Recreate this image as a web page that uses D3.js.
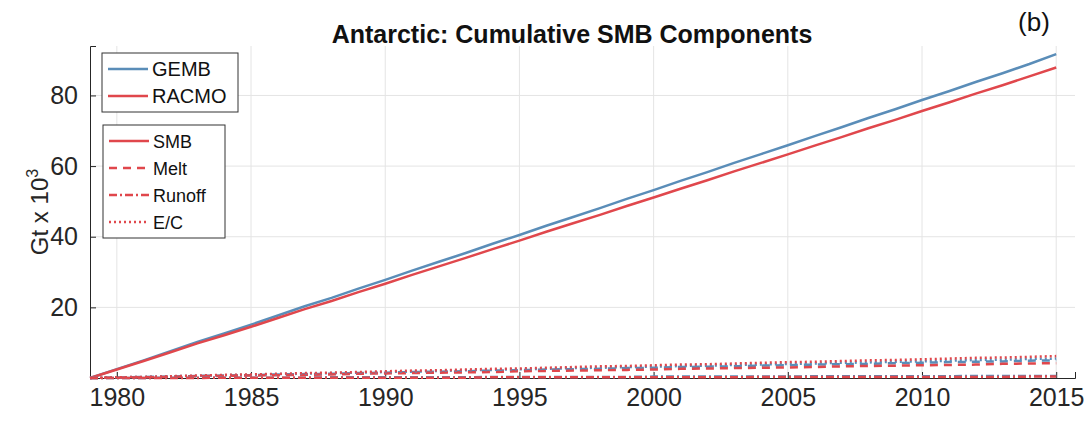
<!DOCTYPE html>
<html><head><meta charset="utf-8">
<script src="https://cdn.jsdelivr.net/npm/d3@7"></script>
<style>body{margin:0;background:#fff;font-family:"Liberation Sans",Arial,sans-serif}</style>
</head><body><div id="chart"></div>
<script>
// yearly values, Gt x 10^3
var years = d3.range(1979, 2016);
var gembSMB = [0,2.5,5.0,7.6,10.2,12.6,15.1,17.7,20.3,22.7,25.3,27.8,30.4,32.9,35.4,38.0,40.5,43.1,45.6,48.1,50.7,53.2,55.8,58.3,60.9,63.4,65.9,68.5,71.0,73.6,76.1,78.7,81.2,83.8,86.3,88.9,91.7];
var racmoSMB = [0,2.4,4.8,7.3,9.8,12.1,14.5,17.0,19.5,21.8,24.3,26.7,29.2,31.6,34.0,36.5,38.9,41.4,43.8,46.2,48.7,51.1,53.6,56.0,58.5,60.9,63.3,65.8,68.2,70.7,73.1,75.6,78.0,80.5,82.9,85.4,87.9];
var gembMelt = [0,0.1,0.3,0.4,0.6,0.7,0.8,1.0,1.1,1.2,1.4,1.5,1.7,1.8,1.9,2.1,2.2,2.4,2.5,2.6,2.8,2.9,3.1,3.2,3.3,3.5,3.6,3.8,3.9,4.0,4.2,4.3,4.5,4.6,4.7,4.9,5.0];
var racmoMelt = [0,0.1,0.2,0.3,0.5,0.6,0.7,0.8,0.9,1.0,1.2,1.3,1.4,1.5,1.6,1.7,1.9,2.0,2.1,2.2,2.3,2.4,2.6,2.7,2.8,2.9,3.0,3.1,3.3,3.4,3.5,3.6,3.7,3.8,4.0,4.1,4.2];
var gembRunoff = [0,0.0,0.0,0.1,0.1,0.1,0.1,0.1,0.1,0.2,0.2,0.2,0.2,0.2,0.2,0.3,0.3,0.3,0.3,0.3,0.3,0.4,0.4,0.4,0.4,0.4,0.4,0.5,0.5,0.5,0.5,0.5,0.5,0.6,0.6,0.6,0.6];
var racmoRunoff = [0,0.0,0.0,0.0,0.0,0.1,0.1,0.1,0.1,0.1,0.1,0.1,0.1,0.1,0.1,0.2,0.2,0.2,0.2,0.2,0.2,0.2,0.2,0.2,0.2,0.3,0.3,0.3,0.3,0.3,0.3,0.3,0.3,0.3,0.3,0.4,0.4];
var gembEC = [0,0.2,0.3,0.5,0.6,0.8,0.9,1.1,1.2,1.4,1.5,1.7,1.8,2.0,2.2,2.3,2.5,2.6,2.8,2.9,3.1,3.2,3.4,3.5,3.7,3.8,4.0,4.1,4.3,4.4,4.6,4.7,4.9,5.1,5.2,5.4,5.5];
var racmoEC = [0,0.2,0.3,0.5,0.7,0.9,1.0,1.2,1.4,1.5,1.7,1.9,2.1,2.2,2.4,2.6,2.7,2.9,3.1,3.3,3.4,3.6,3.8,3.9,4.1,4.3,4.5,4.6,4.8,5.0,5.1,5.3,5.5,5.7,5.8,6.0,6.2];
var xTicks = [1980,1985,1990,1995,2000,2005,2010,2015];
var yTicks = [20,40,60,80];

var blue = "#5a8db8", red = "#e0474c";
var W = 1091, H = 421;
var m = {left: 90, right: 16, top: 46, bottom: 43};
var svg = d3.select("#chart").append("svg").attr("width", W).attr("height", H);
var x = d3.scaleLinear().domain([1979, 2015.7]).range([m.left, W - m.right]);
var y = d3.scaleLinear().domain([0, 94]).range([H - m.bottom, m.top]);

//grid
svg.selectAll(".gx").data(xTicks).enter().append("line")
  .attr("x1", d => x(d)).attr("x2", d => x(d)).attr("y1", y(0)).attr("y2", y(94))
  .attr("stroke", "#e4e4e4");
svg.selectAll(".gy").data(yTicks).enter().append("line")
  .attr("x1", x(1979)).attr("x2", x(2015.7)).attr("y1", d => y(d)).attr("y2", d => y(d))
  .attr("stroke", "#e4e4e4");

//axes
var xa = svg.append("g").attr("transform", "translate(0," + y(0) + ")")
  .call(d3.axisBottom(x).tickValues(xTicks).tickFormat(d3.format("d")).tickSize(-6).tickPadding(10));
var ya = svg.append("g").attr("transform", "translate(" + x(1979) + ",0)")
  .call(d3.axisLeft(y).tickValues(yTicks).tickSize(-6).tickPadding(12));
[xa, ya].forEach(function(a) {
  a.select(".domain").attr("stroke", "#262626");
  a.selectAll(".tick line").attr("stroke", "#262626");
  a.selectAll("text").attr("font-size", 25).attr("fill", "#262626").attr("font-family", "Liberation Sans, Arial");
});

var line = d3.line().x((d, i) => x(years[i])).y(d => y(d));
var series = [
  [gembSMB, blue, null], [racmoSMB, red, null],
  [gembMelt, blue, "8,6"], [racmoMelt, red, "8,6"],
  [gembRunoff, blue, "8,3,2,3"], [racmoRunoff, red, "8,3,2,3"],
  [gembEC, blue, "2,3"], [racmoEC, red, "2,3"]
];
series.forEach(function(s) {
  svg.append("path").datum(s[0]).attr("d", line).attr("fill", "none")
    .attr("stroke", s[1]).attr("stroke-width", 2.5).attr("stroke-dasharray", s[2]);
});

//title and labels
svg.append("text").attr("x", 572).attr("y", 43).attr("text-anchor", "middle")
  .attr("font-size", 25).attr("font-weight", "bold").attr("fill", "#111")
  .text("Antarctic: Cumulative SMB Components");
svg.append("text").attr("x", 1034).attr("y", 31).attr("text-anchor", "middle")
  .attr("font-size", 26).attr("fill", "#111").text("(b)");
var yl = svg.append("text").attr("transform", "translate(48," + y(47) + ") rotate(-90)")
  .attr("text-anchor", "middle").attr("font-size", 24).attr("fill", "#262626");
yl.append("tspan").text("Gt x 10");
yl.append("tspan").attr("font-size", 16).attr("dy", -10).text("3");

//legends
function legend(x0, y0, w, h, step, fs, items) {
  var g = svg.append("g");
  g.append("rect").attr("x", x0).attr("y", y0).attr("width", w).attr("height", h)
    .attr("fill", "#fff").attr("stroke", "#333");
  items.forEach(function(it, i) {
    var yy = y0 + 16 + i * step;
    g.append("line").attr("x1", x0 + 6).attr("x2", x0 + 46).attr("y1", yy).attr("y2", yy)
      .attr("stroke", it[1]).attr("stroke-width", 2.5).attr("stroke-dasharray", it[2]);
    g.append("text").attr("x", x0 + 50).attr("y", yy + 7).attr("font-size", fs)
      .attr("fill", "#111").text(it[0]);
  });
}
legend(102, 53, 136, 59, 27, 20, [["GEMB", blue, null], ["RACMO", red, null]]);
legend(103, 125, 122, 113, 27, 18, [["SMB", red, null], ["Melt", red, "8,6"], ["Runoff", red, "8,3,2,3"], ["E/C", red, "2,3"]]);
</script></body></html>
